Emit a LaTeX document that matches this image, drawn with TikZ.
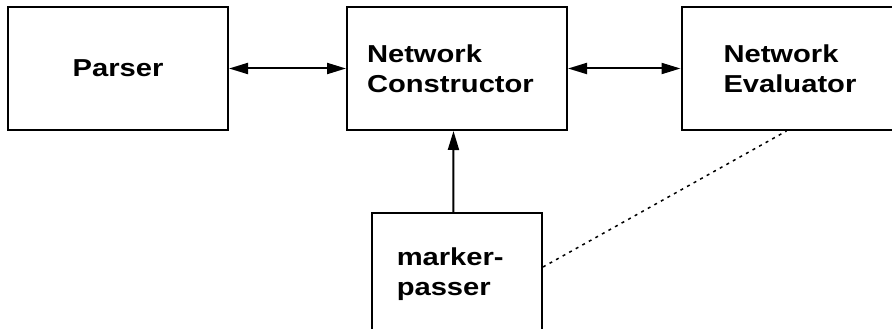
\documentclass[tikz,border=0pt]{standalone}
\usepackage{fontspec}
\setmainfont{Liberation Sans}[FakeStretch=1.19]
\usetikzlibrary{arrows.meta}
\begin{document}
\begin{tikzpicture}
  [x=1pt,y=1pt,>={Triangle[length=19pt,width=11pt]},
   every node/.style={draw,line width=2pt,minimum width=220pt,minimum height=123pt,
     font=\fontsize{24.5}{30}\selectfont\bfseries,inner sep=0pt}]
  \clip (0,0) rectangle (892,-329);
  \node[align=center,text width=200pt] (parser) at (118,-68.5) {Parser};
  \node[align=left,text width=180pt] (cons) at (457,-68.5) {Network\\Constructor};
  \node[align=left,text width=136pt] (eval) at (791.5,-68.5) {Network\\Evaluator};
  \node[align=left,text width=120pt,minimum width=170.5pt] (marker) at (456.75,-274.5) {marker-\\passer};
 \path[line width=2pt]
        (parser.east) edge[<->] (cons.west)
        (cons.east) edge[<->] (eval.west)
        ([xshift=-3.5pt]marker.north) edge[->] ([xshift=-3.5pt]cons.south);
 \draw[line width=1.5pt,dash pattern=on 3pt off 4.5pt]
        ([yshift=7.5pt]marker.east) -- ([xshift=-5pt]eval.south);

\end{tikzpicture}
\end{document}
